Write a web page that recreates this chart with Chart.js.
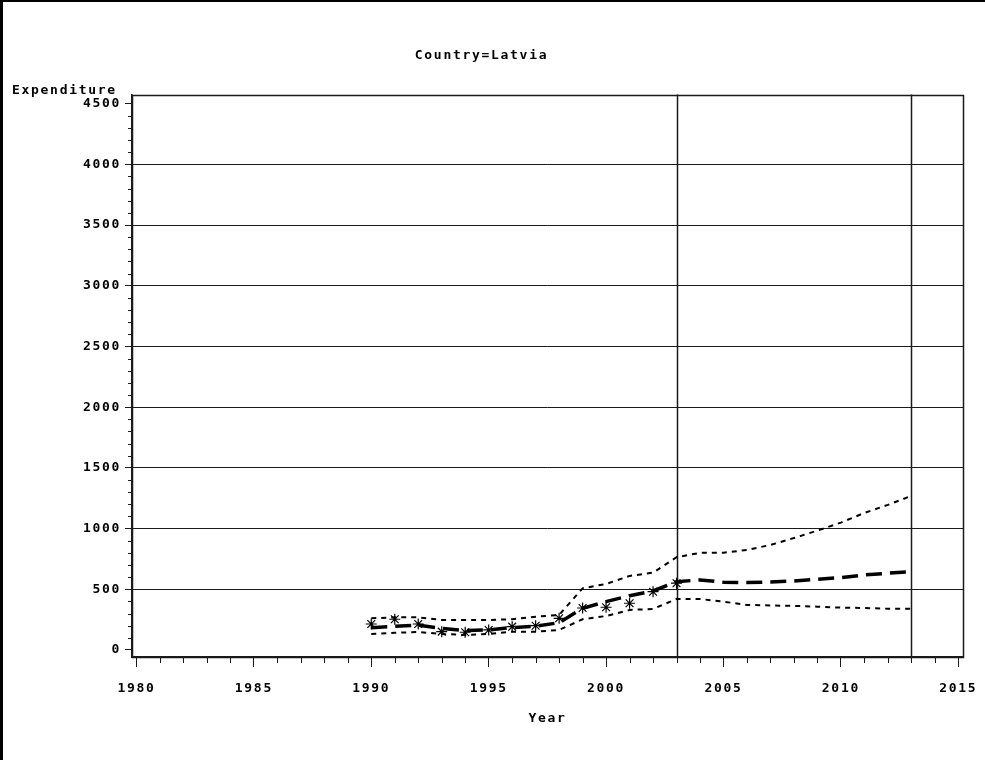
<!DOCTYPE html>
<html>
<head>
<meta charset="utf-8">
<script src="https://cdn.jsdelivr.net/npm/chart.js@4/dist/chart.umd.min.js"></script>
<style>
  html, body { margin: 0; padding: 0; background: #fff; }
  #wrap { position: relative; width: 985px; height: 760px; }
</style>
</head>
<body>
<div id="wrap"><canvas id="c" width="985" height="760"></canvas></div>
<script>
// Latvia expenditure: observed values and forecast with confidence band
const chartTitle = 'Country=Latvia';
const yAxisTitle = 'Expenditure';
const xAxisTitle = 'Year';

const years = [1990, 1991, 1992, 1993, 1994, 1995, 1996, 1997, 1998, 1999, 2000, 2001,
               2002, 2003, 2004, 2005, 2006, 2007, 2008, 2009, 2010, 2011, 2012, 2013];
const actual   = [214, 253, 214, 151, 146, 165, 192, 200, 261, 346, 352, 385, 480, 550];
const forecast = [184, 195, 205, 178, 160, 165, 185, 195, 225, 343, 398, 447,
                  486, 563, 577, 558, 555, 560, 568, 583, 596, 618, 632, 645];
const upper    = [261, 269, 269, 247, 247, 247, 253, 274, 288, 508, 544, 610,
                  637, 764, 800, 801, 824, 865, 922, 983, 1049, 1129, 1195, 1269];
const lower    = [132, 142, 148, 132, 124, 132, 151, 151, 165, 253, 280, 330,
                  338, 420, 420, 398, 371, 367, 363, 357, 349, 346, 340, 340];

const xTicks = [1980, 1985, 1990, 1995, 2000, 2005, 2010, 2015];
const yTicks = [0, 500, 1000, 1500, 2000, 2500, 3000, 3500, 4000, 4500];
const refYears = [2003, 2013];

const FONT = { family: '"DejaVu Sans Mono", monospace', size: 13, weight: 'bold' };
const SPACING = '1.7px';
const INK = '#1a1a1a';

const pts = arr => arr.map((v, i) => ({ x: years[i], y: v }));

function setSpacing(chart) { chart.ctx.letterSpacing = SPACING; }

const decor = {
  id: 'decor',
  beforeUpdate: setSpacing,
  beforeLayout: setSpacing,
  beforeDraw(chart) {
    setSpacing(chart);
    const ctx = chart.ctx;
    ctx.save();
    ctx.fillStyle = '#fff';
    ctx.fillRect(0, 0, chart.width, chart.height);
    // page frame
    ctx.fillStyle = '#000';
    ctx.fillRect(0, 0, 3, chart.height);
    ctx.fillRect(0, 0, chart.width, 2);
    ctx.restore();
  },
  beforeDatasetsDraw(chart) {
    const { ctx, chartArea: a, scales: { x, y } } = chart;
    ctx.save();
    ctx.strokeStyle = INK;
    ctx.lineWidth = 1.5;
    // reference years
    refYears.forEach(yr => {
      const px = Math.round(x.getPixelForValue(yr)) + 0.5;
      ctx.beginPath();
      ctx.moveTo(px, a.top);
      ctx.lineTo(px, a.bottom);
      ctx.stroke();
    });
    // plot frame
    ctx.strokeRect(Math.round(a.left) + 0.5, Math.round(a.top) + 0.5,
                   Math.round(a.right - a.left), Math.round(a.bottom - a.top));
    // minor ticks
    ctx.lineWidth = 1;
    for (let v = 100; v < 4500; v += 100) {
      if (v % 500 === 0) continue;
      const py = Math.round(y.getPixelForValue(v)) + 0.5;
      ctx.beginPath();
      ctx.moveTo(a.left - 4, py);
      ctx.lineTo(a.left, py);
      ctx.stroke();
    }
    for (let yr = 1981; yr < 2015; yr++) {
      if (yr % 5 === 0) continue;
      const px = Math.round(x.getPixelForValue(yr)) + 0.5;
      ctx.beginPath();
      ctx.moveTo(px, a.bottom);
      ctx.lineTo(px, a.bottom + 6);
      ctx.stroke();
    }
    ctx.restore();
  },
  afterDraw(chart) {
    const ctx = chart.ctx;
    ctx.save();
    ctx.letterSpacing = SPACING;
    ctx.font = `${FONT.weight} ${FONT.size}px ${FONT.family}`;
    ctx.fillStyle = '#000';
    ctx.textAlign = 'left';
    ctx.textBaseline = 'middle';
    ctx.fillText(yAxisTitle, 12, 91);
    ctx.restore();
  }
};

new Chart(document.getElementById('c'), {
  type: 'line',
  data: {
    datasets: [
      {
        label: 'Actual', data: pts(actual), showLine: false,
        pointStyle: 'star', pointRadius: 5.5, pointBorderWidth: 1.2,
        borderColor: '#000', backgroundColor: '#000'
      },
      {
        label: 'Forecast', data: pts(forecast), borderColor: '#000',
        borderWidth: 3.5, borderDash: [16, 8], pointRadius: 0, tension: 0, fill: false
      },
      {
        label: 'Upper', data: pts(upper), borderColor: '#000',
        borderWidth: 2, borderDash: [5, 5], pointRadius: 0, tension: 0, fill: false
      },
      {
        label: 'Lower', data: pts(lower), borderColor: '#000',
        borderWidth: 2, borderDash: [5, 5], pointRadius: 0, tension: 0, fill: false
      }
    ]
  },
  options: {
    responsive: false,
    animation: false,
    devicePixelRatio: 1,
    layout: { padding: { left: 0, right: 22, top: 0, bottom: 0 } },
    plugins: {
      legend: { display: false },
      tooltip: { enabled: false },
      title: {
        display: true, text: chartTitle, color: '#000', font: FONT,
        padding: { top: 48, bottom: 31 }
      }
    },
    scales: {
      x: {
        type: 'linear', min: 1979.81, max: 2015.2,
        afterBuildTicks: s => { s.ticks = xTicks.map(v => ({ value: v })); },
        afterFit: s => { s.height = 103; s.paddingLeft = 0; s.paddingRight = 0; },
        ticks: { color: '#000', font: FONT, padding: 14, maxRotation: 0, autoSkip: false,
                 callback: v => String(v) },
        grid: { drawOnChartArea: false, tickLength: 10, color: INK, tickColor: INK, tickWidth: 1 },
        border: { color: INK, width: 1.5 },
        title: { display: true, text: xAxisTitle, color: '#000', font: FONT,
                 padding: { top: 0, bottom: 34 } }
      },
      y: {
        type: 'linear', min: -57.7, max: 4574,
        afterBuildTicks: s => { s.ticks = yTicks.map(v => ({ value: v })); },
        afterFit: s => { s.width = 132; s.paddingTop = 0; s.paddingBottom = 0; },
        ticks: { color: '#000', font: FONT, padding: 4, callback: v => String(v) },
        grid: {
          tickLength: 7, tickColor: INK, tickWidth: 1,
          color: c => (c.tick && (c.tick.value === 0 || c.tick.value === 4500)) ? 'rgba(0,0,0,0)' : INK
        },
        border: { color: INK, width: 1.5 }
      }
    }
  },
  plugins: [decor]
});
</script>
</body>
</html>
